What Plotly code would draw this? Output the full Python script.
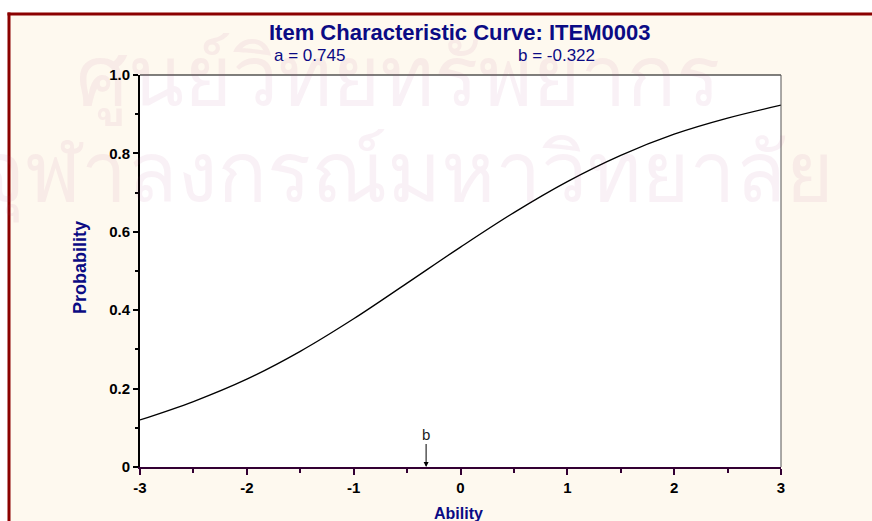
import plotly.graph_objects as go

# Data
ability = [-3.0, -2.5, -2.0, -1.5, -1.0, -0.5, 0.0, 0.5, 1.0, 1.5, 2.0, 2.5, 3.0]
probability = [0.120, 0.167, 0.224, 0.295, 0.378, 0.469, 0.561, 0.649, 0.728, 0.795, 0.849, 0.890, 0.923]
a_param = 0.745
b_param = -0.322
item_name = "ITEM0003"
x_ticks = [-3, -2, -1, 0, 1, 2, 3]
x_ticklabels = ["-3", "-2", "-1", "0", "1", "2", "3"]
y_ticks = [0, 0.2, 0.4, 0.6, 0.8, 1.0]
y_ticklabels = ["0", "0.2", "0.4", "0.6", "0.8", "1.0"]

W, H = 872, 521
L, R, T, B = 140, 781, 75, 467

def px(x):
    return (x - L) / (R - L)

def py(y):
    return (B - y) / (B - T)

navy = "#0B0B84"
font_fam = "Liberation Sans, Arial"
fig = go.Figure()
fig.add_trace(go.Scatter(x=ability, y=probability, mode="lines",
                         line=dict(color="black", width=1.3, shape="spline", smoothing=1.0),
                         hoverinfo="skip", showlegend=False))

shapes = [
    # white strips outside the cream frame (top and left)
    dict(type="rect", xref="paper", yref="paper", x0=px(0), x1=px(W), y0=py(12.5), y1=py(0),
         fillcolor="white", line=dict(width=0), layer="below"),
    dict(type="rect", xref="paper", yref="paper", x0=px(0), x1=px(7.5), y0=py(H), y1=py(0),
         fillcolor="white", line=dict(width=0), layer="below"),
    # dark red frame border (top, left)
    dict(type="line", xref="paper", yref="paper", x0=px(7.5), x1=px(W), y0=py(14), y1=py(14),
         line=dict(color="#8B0000", width=3), layer="below"),
    dict(type="line", xref="paper", yref="paper", x0=px(9), x1=px(9), y0=py(H), y1=py(12.5),
         line=dict(color="#8B0000", width=3), layer="below"),
    # white plot area
    dict(type="rect", xref="paper", yref="paper", x0=0, x1=1, y0=0, y1=1,
         fillcolor="white", line=dict(width=0), layer="below"),
    # top and right thin frame lines
    dict(type="line", xref="paper", yref="paper", x0=0, x1=1, y0=1, y1=1,
         line=dict(color="black", width=1)),
    dict(type="line", xref="paper", yref="paper", x0=1, x1=1, y0=0, y1=1,
         line=dict(color="#555555", width=1)),
]

thai_font = dict(family="Loma, Garuda, Noto Sans Thai, DejaVu Sans, sans-serif", size=82,
                 color="rgba(170,70,140,0.075)")
annotations = [
    dict(text="ศูนย์วิทยทรัพยากร", xref="paper", yref="paper", x=px(398), y=py(76),
         showarrow=False, font=thai_font, xanchor="center", yanchor="middle"),
    dict(text="จุฬาลงกรณ์มหาวิทยาลัย", xref="paper", yref="paper", x=px(405), y=py(172),
         showarrow=False, font=thai_font, xanchor="center", yanchor="middle"),
    dict(text="<b>Item Characteristic Curve: " + item_name + "</b>", xref="paper", yref="paper",
         x=px(460), y=py(32), showarrow=False, xanchor="center", yanchor="middle",
         font=dict(family=font_fam, size=22, color=navy)),
    dict(text="a = " + str(a_param), xref="paper", yref="paper", x=px(309), y=py(56),
         showarrow=False, xanchor="center", yanchor="middle",
         font=dict(family=font_fam, size=17, color=navy)),
    dict(text="b = " + str(b_param), xref="paper", yref="paper", x=px(556), y=py(56),
         showarrow=False, xanchor="center", yanchor="middle",
         font=dict(family=font_fam, size=17, color=navy)),
    dict(text="<b>Ability</b>", xref="paper", yref="paper", x=px(458), y=py(513),
         showarrow=False, xanchor="center", yanchor="middle",
         font=dict(family=font_fam, size=16, color=navy)),
    dict(text="<b>Probability</b>", xref="paper", yref="paper", x=px(80), y=py(268),
         showarrow=False, xanchor="center", yanchor="middle", textangle=-90,
         font=dict(family=font_fam, size=18, color=navy)),
    dict(text="b", x=b_param, y=0, xref="x", yref="y", showarrow=True, ax=0, ay=-33,
         arrowhead=2, arrowsize=1, arrowwidth=1, arrowcolor="black", standoff=0,
         font=dict(family=font_fam, size=15, color="#222222")),
]

fig.update_layout(
    width=W, height=H,
    margin=dict(l=L, r=W - R, t=T, b=H - B, pad=0, autoexpand=False),
    paper_bgcolor="#FEF9EF", plot_bgcolor="white",
    shapes=shapes, annotations=annotations,
    showlegend=False,
)
fig.update_xaxes(range=[-3, 3], tickvals=x_ticks, ticktext=x_ticklabels, ticks="outside",
                 ticklen=6, tickwidth=2, automargin=False,
                 tickcolor="#330033", showline=True, linecolor="#330033", linewidth=2,
                 showgrid=False, zeroline=False,
                 minor=dict(dtick=0.5, ticks="outside", ticklen=4, tickwidth=2, tickcolor="#330033"),
                 tickfont=dict(family=font_fam, size=15, color="black", weight="bold"))
fig.update_yaxes(range=[0, 1], tickvals=y_ticks, ticktext=y_ticklabels, ticks="outside", ticklen=5,
                 tickwidth=2, tickcolor="black", showline=True, linecolor="black", linewidth=2,
                 showgrid=False, zeroline=False, automargin=False,
                 minor=dict(dtick=0.1, ticks="outside", ticklen=3, tickwidth=2, tickcolor="black"),
                 tickfont=dict(family=font_fam, size=15, color="black", weight="bold"))

fig.write_html("out.html")
